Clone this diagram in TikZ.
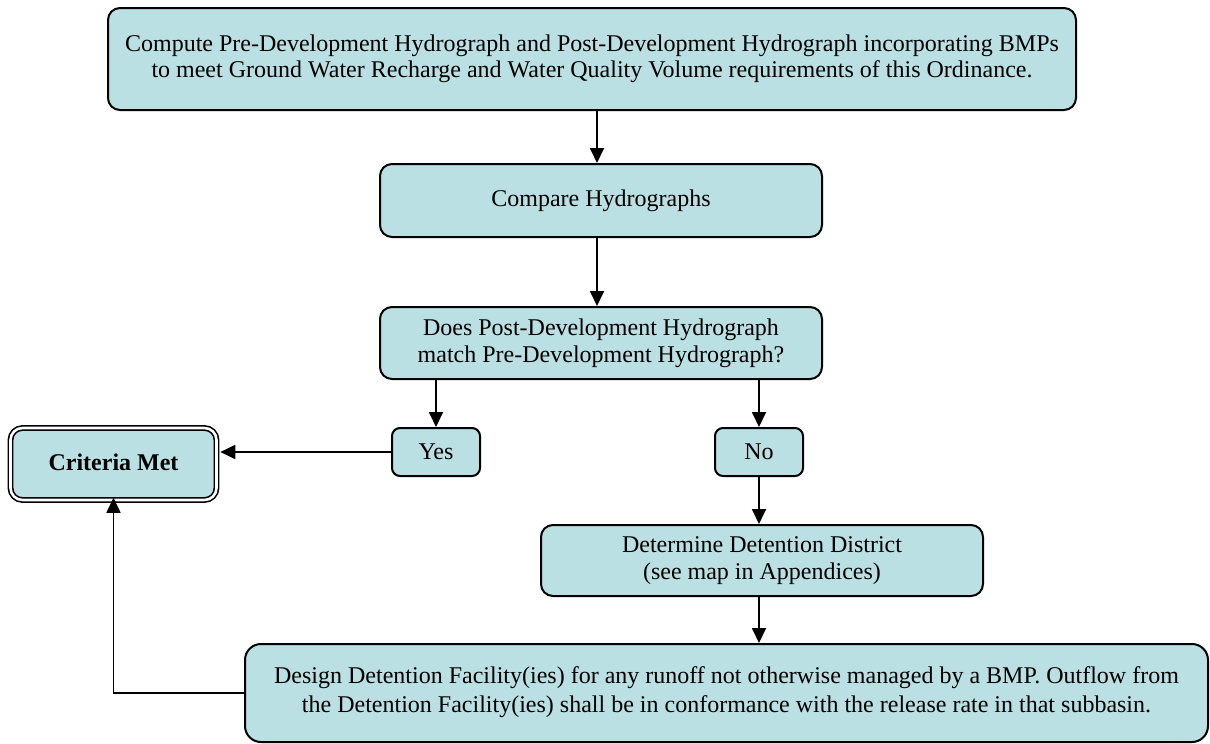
\documentclass[tikz,border=0pt]{standalone}
\usepackage{fontspec}
\setmainfont{Liberation Serif}
\usetikzlibrary{arrows.meta,calc}
\definecolor{boxfill}{RGB}{186,224,227}
\begin{document}
\begin{tikzpicture}[x=1pt,y=-1pt,
  box/.style={draw=black,fill=boxfill,line width=2pt,rounded corners=12pt,align=center,inner sep=0pt,font=\fontsize{24}{27}\selectfont},
  arr/.style={line width=1.8pt,-{Triangle[length=15pt,width=14pt]}}]
\useasboundingbox (0,0) rectangle (1210,744);
\node[box,minimum width=968pt,minimum height=102pt] (top) at (592,59)
  {\raisebox{6pt}{\begin{tabular}{@{}c@{}}Compute Pre-Development Hydrograph and Post-Development Hydrograph incorporating BMPs\\[-1pt]to meet Ground Water Recharge and Water Quality Volume requirements of this Ordinance.\end{tabular}}};
\node[box,minimum width=442pt,minimum height=73pt] (cmp) at (601,200.5) {\raisebox{3pt}{Compare Hydrographs}};
\node[box,minimum width=442pt,minimum height=72pt] (q) at (601,343) {Does Post-Development Hydrograph\\match Pre-Development Hydrograph?};
\node[box,minimum width=88pt,minimum height=48pt,rounded corners=8pt] (yes) at (436,452) {Yes};
\node[box,minimum width=88pt,minimum height=48pt,rounded corners=8pt] (no) at (759,452) {No};
\node[box,minimum width=206pt,minimum height=72pt,line width=1.6pt,double=white,double distance=2.6pt,font=\bfseries\fontsize{24}{27}\selectfont] (cm) at (113.5,464) {\raisebox{3pt}{Criteria Met}};
\node[box,minimum width=442pt,minimum height=71pt] (det) at (762,560.5) {Determine Detention District\\(see map in Appendices)};
\node[box,minimum width=963pt,minimum height=98pt,rounded corners=16pt] (bot) at (726.5,693) {\raisebox{2pt}{\begin{tabular}{@{}c@{}}Design Detention Facility(ies) for any runoff not otherwise managed by a BMP. Outflow from\\[2pt]the Detention Facility(ies) shall be in conformance with the release rate in that subbasin.\end{tabular}}};
\draw[arr] ([xshift=5pt]top.south) -- ([xshift=-4pt]cmp.north);
\draw[arr] ([xshift=-4pt]cmp.south) -- ([xshift=-4pt]q.north);
\draw[arr] (q.south -| yes.north) -- (yes.north);
\draw[arr] (q.south -| no.north) -- (no.north);
\draw[arr] (yes.west) -- ([xshift=3pt]yes.west -| cm.east);
\draw[arr] (no.south) -- (no.south |- det.north);
\draw[arr] ([xshift=-3pt]det.south) -- ([xshift=-3pt]det.south |- bot.north);
\draw[arr] (bot.west) -| ([yshift=3pt]cm.south);
\end{tikzpicture}
\end{document}
